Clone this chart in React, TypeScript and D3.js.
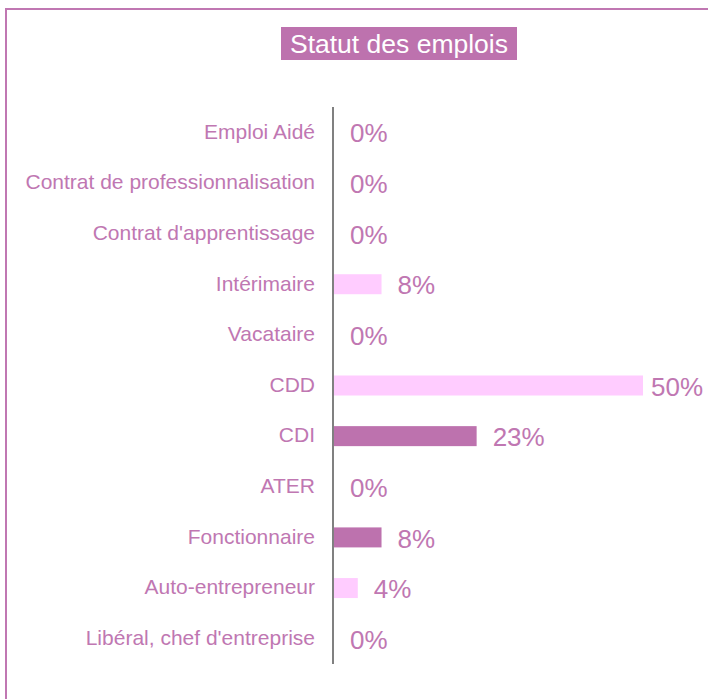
import React from "react";
import * as d3 from "d3";

const categories = [
  "Emploi Aidé",
  "Contrat de professionnalisation",
  "Contrat d'apprentissage",
  "Intérimaire",
  "Vacataire",
  "CDD",
  "CDI",
  "ATER",
  "Fonctionnaire",
  "Auto-entrepreneur",
  "Libéral, chef d'entreprise",
];
const values = [0, 0, 0, 7.69, 0, 50, 23.08, 0, 7.69, 3.85, 0];
const shades = ["light", "light", "light", "light", "light", "light", "dark", "dark", "dark", "light", "light"];
const title = "Statut des emplois";

const W = 708;
const H = 699;
const PINK = "#c077b2";
const LIGHT = "#ffccff";
const DARK = "#bd72ae";
const FONT = "'Liberation Sans', Arial, sans-serif";

export default function App() {
  const x0 = 334;
  const y = d3.scaleBand<string>().domain(categories).range([107, 664]).paddingInner(0.6).paddingOuter(0.3);
  const x = d3.scaleLinear().domain([0, 50]).range([x0, 643]);

  return (
    <svg
      width={W}
      height={H}
      style={{ position: "absolute", left: 0, top: 0, background: "#fff" }}
      fontFamily={FONT}
    >
      <rect x={6} y={9} width={W + 10} height={H + 10} fill="#fff" stroke={PINK} strokeWidth={2} />
      <rect x={281} y={27} width={236} height={33} fill={DARK} />
      <text x={399} y={43.5} dy="0.35em" textAnchor="middle" fontSize={26.5} fill="#fff">
        {title}
      </text>
      {categories.map((c, i) => {
        const cy = (y(c) as number) + y.bandwidth() / 2;
        const xe = x(values[i]);
        const lx = Math.min(xe + 16, W - 57);
        return (
          <g key={c}>
            <text x={315} y={cy - 1} dy="0.35em" textAnchor="end" fontSize={21} fill={PINK}>
              {c}
            </text>
            {values[i] > 0 && (
              <rect
                x={x0}
                y={cy - 10}
                width={xe - x0}
                height={20}
                fill={shades[i] === "dark" ? DARK : LIGHT}
              />
            )}
            <text x={values[i] > 0 ? lx : x0 + 16} y={cy + 1} dy="0.35em" fontSize={26} fill={PINK}>
              {d3.format(".0f")(values[i])}%
            </text>
          </g>
        );
      })}
      <line x1={333} x2={333} y1={107} y2={664} stroke="#808080" strokeWidth={2} />
    </svg>
  );
}
